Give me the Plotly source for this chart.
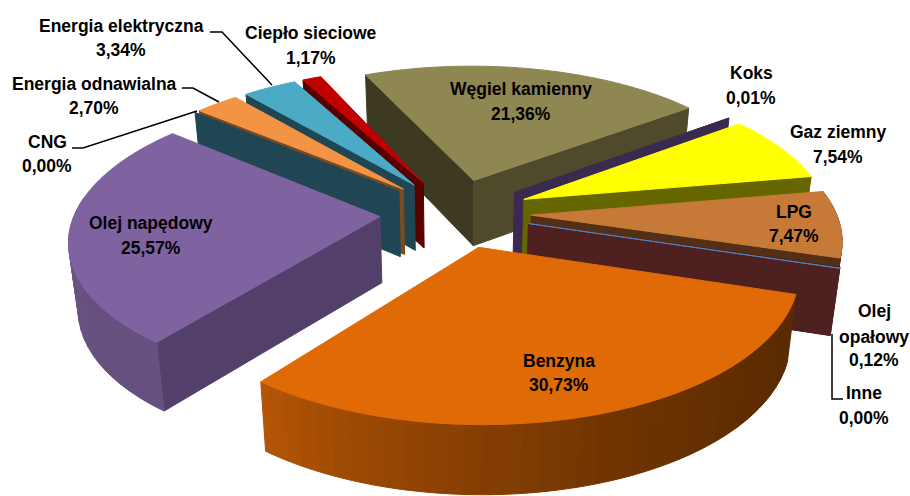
import numpy as np
import plotly.graph_objects as go

# ---- data ----
categories = ["Węgiel kamienny", "Koks", "Gaz ziemny", "LPG", "Olej opałowy", "Inne",
              "Benzyna", "Olej napędowy", "CNG", "Energia odnawialna",
              "Energia elektryczna", "Ciepło sieciowe"]
values = [21.36, 0.01, 7.54, 7.47, 0.12, 0.00, 30.73, 25.57, 0.00, 2.70, 3.34, 1.17]

# ---- style ----
top_colors = ["#8F8752", "#3B2A4F", "#FFFF00", "#C77A38", "#4F2020", "#4F81BD",
              "#E06A06", "#7F62A0", "#1F4652", "#F39445", "#4BAAC6", "#C00000"]
side_start = ["#3E3A22", "#3B2A4F", "#666600", "#532F17", "#4F2020", "#4F2020",
              "#5A2A00", "#53406A", "#1F4652", "#7A4A20", "#1F4652", "#560000"]  # wall at first edge
side_end = ["#4F4A2C", "#3B2A4F", "#666600", "#532F17", "#4F2020", "#4F2020",
            "#B55505", "#53406A", "#1F4652", "#7A4A20", "#1F4652", "#560000"]    # wall at last edge
arc_start = ["#4F4A2C", "#3B2A4F", "#666600", "#532F17", "#4F2020", "#4F2020",
             "#5A2A00", "#66507F", "#1F4652", "#7A4A20", "#1F4652", "#560000"]
arc_end = ["#3E3A22", "#3B2A4F", "#666600", "#532F17", "#4F2020", "#4F2020",
           "#B55505", "#6F5690", "#1F4652", "#7A4A20", "#1F4652", "#560000"]

START_DEG = -24.0
CX, CY = 455.5, 213.0
A, B = 305.0, 140.0
PERSP = 0.147
EXPLODE = 0.248
DEPTH = 66.0
BOTTOM_SCALE = 0.975


def project(X, Y, bottom=False):
    w = 1 + PERSP * Y
    sx = CX + A * X / w
    sy = CY - B * Y / w
    if bottom:
        sx = CX + (sx - CX) * BOTTOM_SCALE
        sy = sy + DEPTH * (1 - 0.05 * Y)
    return sx, sy


def hex2rgb(h):
    return np.array([int(h[i:i + 2], 16) for i in (1, 3, 5)], float)


def mix(a, b, t):
    c = hex2rgb(a) * (1 - t) + hex2rgb(b) * t
    return "rgb(%d,%d,%d)" % tuple(c.round())


fig = go.Figure()


def poly(xs, ys, color):
    fig.add_trace(go.Scatter(x=list(xs), y=list(ys), mode="lines", fill="toself",
                             fillcolor=color,
                             line=dict(color=color, width=1, simplify=False),
                             hoverinfo="skip", showlegend=False))


total = 100.0
edges = START_DEG + np.cumsum([0] + values) * 360 / total
order = np.argsort([-np.cos(np.radians((edges[i] + edges[i + 1]) / 2)) for i in range(len(values))])

for i in order:
    a0, a1 = np.radians(edges[i]), np.radians(edges[i + 1])
    mid = (a0 + a1) / 2
    ox, oy = EXPLODE * np.sin(mid), EXPLODE * np.cos(mid)
    n = max(2, int(np.degrees(a1 - a0) / 1.5))
    th = np.linspace(a0, a1, n + 1)
    X = ox + np.sin(th)
    Y = oy + np.cos(th)
    tx, ty = project(X, Y)
    bx, by = project(X, Y, True)
    t0x, t0y = project(np.array([ox]), np.array([oy]))
    b0x, b0y = project(np.array([ox]), np.array([oy]), True)

    # radial walls that face the viewer, far one first
    walls = []
    if np.sin(a0) < 0.02:
        walls.append((tx[0], ty[0], bx[0], by[0], side_start[i]))
    if np.sin(a1) > -0.02:
        walls.append((tx[-1], ty[-1], bx[-1], by[-1], side_end[i]))
    walls.sort(key=lambda w: w[1])
    for wtx, wty, wbx, wby, col in walls:
        poly([t0x[0], wtx, wbx, b0x[0], t0x[0]], [t0y[0], wty, wby, b0y[0], t0y[0]], col)
    # outer wall as a band of shaded strips, only the part turned to the viewer
    if values[i] > 0.5:
        step = 2
        for k in range(0, n, step):
            e = min(k + step, n)
            if np.cos((th[k] + th[e]) / 2) > 0.15:
                continue
            c = mix(arc_start[i], arc_end[i], ((k + e) / 2 / n) ** 1.8)
            xs = list(tx[k:e + 1]) + list(bx[k:e + 1][::-1]) + [tx[k]]
            ys = list(ty[k:e + 1]) + list(by[k:e + 1][::-1]) + [ty[k]]
            poly(xs, ys, c)
    # top face
    if values[i] > 0 or categories[i] == "Inne":
        poly([t0x[0], *tx, t0x[0]], [t0y[0], *ty, t0y[0]], top_colors[i])

# ---- labels: centre x and the y of each text line ----
label_pos = {
    "Węgiel kamienny": (521, [89, 114]), "Koks": (751, [73, 98]), "Gaz ziemny": (838, [132, 157]),
    "LPG": (794, [212, 236]), "Olej opałowy": (874, [311, 337, 360]), "Inne": (864, [393, 418]),
    "Benzyna": (559, [361, 385]), "Olej napędowy": (151, [223, 248]), "CNG": (47, [142, 166]),
    "Energia odnawialna": (94, [84, 108]), "Energia elektryczna": (121, [26, 50]),
    "Ciepło sieciowe": (311, [33, 58]),
}
for name, val in zip(categories, values):
    x, ys = label_pos[name]
    pct = f"{val:.2f}".replace(".", ",") + "%"
    lines = (name.split(" ") if name == "Olej opałowy" else [name]) + [pct]
    for line, y in zip(lines, ys):
        fig.add_annotation(x=x, y=y, text="<b>" + line + "</b>", showarrow=False,
                           xanchor="center", yanchor="middle",
                           font=dict(family="Liberation Sans", size=17.5, color="#000000"))

leaders = [
    [(210, 32), (222, 32), (272, 85)],
    [(182, 88), (193, 88), (219, 102)],
    [(72, 148), (83, 148), (197, 111)],
    [(832, 334), (832, 399), (843, 399)],
]
for pts in leaders:
    path = "M " + " L ".join(f"{x},{y}" for x, y in pts)
    fig.add_shape(type="path", path=path, line=dict(color="#000000", width=1.5), xref="x", yref="y")

fig.update_layout(width=910, height=496, margin=dict(l=0, r=0, t=0, b=0),
                  paper_bgcolor="#FFFFFF", plot_bgcolor="#FFFFFF", showlegend=False,
                  xaxis=dict(range=[0, 910], visible=False, fixedrange=True),
                  yaxis=dict(range=[496, 0], visible=False, fixedrange=True))
fig.write_html("out.html", config={"displayModeBar": False},
               post_script="document.body.style.margin='0';document.body.style.overflow='hidden';")
